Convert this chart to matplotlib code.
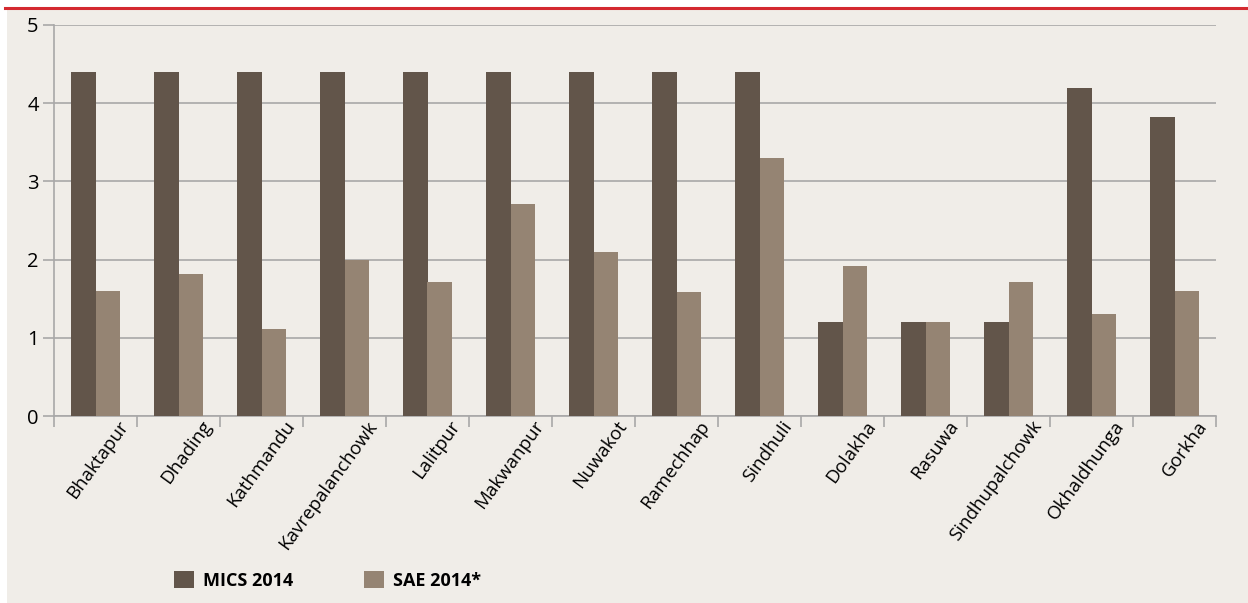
import numpy as np
import matplotlib.pyplot as plt
import matplotlib.transforms as mtransforms
from matplotlib.patches import Rectangle
from matplotlib.lines import Line2D

# Districts and the two series
districts = ["Bhaktapur", "Dhading", "Kathmandu", "Kavrepalanchowk", "Lalitpur",
             "Makwanpur", "Nuwakot", "Ramechhap", "Sindhuli", "Dolakha", "Rasuwa",
             "Sindhupalchowk", "Okhaldhunga", "Gorkha"]
mics_2014 = [4.4, 4.4, 4.4, 4.4, 4.4, 4.4, 4.4, 4.4, 4.4, 1.2, 1.2, 1.2, 4.2, 3.82]
sae_2014 = [1.6, 1.82, 1.11, 2.0, 1.71, 2.71, 2.1, 1.59, 3.3, 1.92, 1.2, 1.71, 1.3, 1.6]

bg = "#f0ede8"
c_mics = "#62554a"
c_sae = "#958473"
grid_c = "#a8a8a8"

plt.rcParams['font.family'] = ['Open Sans', 'DejaVu Sans']

fig = plt.figure(figsize=(12.48, 6.03), dpi=100, facecolor="white")
# beige panel + red rule on top
fig.add_artist(Rectangle((7/1248, 0), 1 - 7/1248, 1 - 9/603, transform=fig.transFigure,
                         facecolor=bg, edgecolor="none", zorder=0))
fig.add_artist(Line2D([5/1248, 1], [1 - 8/603, 1 - 8/603], transform=fig.transFigure,
                      color="#d42a30", lw=2.2))

ax = fig.add_axes([54/1248, 1 - 416/603, (1216 - 54)/1248, (416 - 25)/603])
ax.set_facecolor("none")

x = np.arange(len(districts))
w = 0.29
ax.bar(x - w/2, mics_2014, w, color=c_mics, label="MICS 2014", zorder=3)
ax.bar(x + w/2, sae_2014, w, color=c_sae, label="SAE 2014*", zorder=3)

ax.set_xlim(-0.5, len(districts) - 0.5)
ax.set_ylim(0, 5)
ax.set_yticks([0, 1, 2, 3, 4, 5])
ax.yaxis.grid(True, color=grid_c, lw=1.2, zorder=0)
for s in ["top", "right"]:
    ax.spines[s].set_visible(False)
ax.spines["left"].set_color(grid_c)
ax.spines["bottom"].set_color(grid_c)
ax.spines["left"].set_linewidth(1.2)
ax.spines["bottom"].set_linewidth(1.2)

ax.set_xticks(np.arange(len(districts) + 1) - 0.5, minor=False)
ax.set_xticklabels([])
ax.tick_params(axis="x", length=8, color=grid_c, width=1.2)
ax.set_xticks(x, minor=True)
ax.set_xticklabels(districts, minor=True, rotation=54, ha="right", va="top",
                   rotation_mode="anchor", fontsize=13.5)
ax.tick_params(axis="x", which="minor", length=0, pad=1)
shift = mtransforms.ScaledTranslation(22/100, 0, fig.dpi_scale_trans)
for lab in ax.get_xticklabels(minor=True):
    lab.set_transform(lab.get_transform() + shift)
ax.tick_params(axis="y", length=8, color=grid_c, width=1.2, labelsize=14.5, pad=3)

leg = fig.legend(loc="lower left", bbox_to_anchor=(158/1248, -0.005), ncol=2, frameon=False,
                 prop={"weight": "bold", "size": 13}, handlelength=1.1, handleheight=1.1,
                 columnspacing=3.9, handletextpad=0.5)

fig.savefig("out.png", dpi=100, facecolor="white")
